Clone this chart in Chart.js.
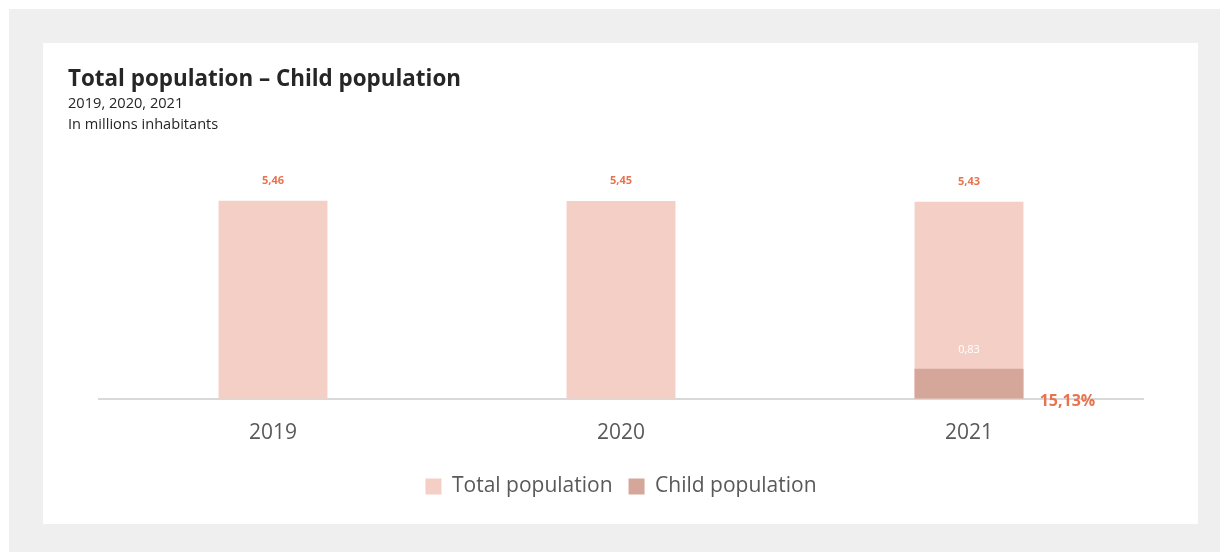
<!DOCTYPE html>
<html>
<head>
<meta charset="utf-8">
<script src="https://cdn.jsdelivr.net/npm/chart.js@4"></script>
<style>
  body { margin: 0; background: #fff; width: 1220px; height: 552px; overflow: hidden; font-family: "Open Sans", sans-serif; }
  .frame { position: absolute; left: 9px; top: 9px; width: 1211px; height: 543px; background: #efefef; }
  .card { position: absolute; left: 43px; top: 43px; width: 1155px; height: 481px; background: #fff; }
  .head { position: absolute; left: 25px; top: 20px; color: #262626; }
  .head h1 { margin: 0; font-size: 22.4px; font-weight: 700; line-height: 29px; }
  .head p { margin: 0; font-size: 14.6px; line-height: 21px; color: #262626; }
  canvas { position: absolute; left: 0; top: 0; }
</style>
</head>
<body>
<div class="frame"></div>
<div class="card">
  <canvas id="chart" width="1155" height="481"></canvas>
  <div class="head">
    <h1>Total population – Child population</h1>
    <p>2019, 2020, 2021</p>
    <p>In millions inhabitants</p>
  </div>
</div>
<script>
const years = ["2019", "2020", "2021"];
const totalPopulation = [5.46, 5.45, 5.43];
const childPopulation = [null, null, 0.83];
const childShare = [null, null, "15,13%"];

const fmt = v => v.toFixed(2).replace(".", ",");

// value labels drawn on top of the bars
const barLabels = {
  id: "barLabels",
  afterDatasetsDraw(chart) {
    const ctx = chart.ctx;
    ctx.save();
    ctx.textAlign = "center";
    ctx.textBaseline = "middle";
    chart.getDatasetMeta(0).data.forEach((bar, i) => {
      ctx.font = "bold 11px 'Open Sans'";
      ctx.fillStyle = "#e8734f";
      ctx.fillText(fmt(totalPopulation[i]), bar.x, bar.y - 20);
    });
    chart.getDatasetMeta(1).data.forEach((bar, i) => {
      if (childPopulation[i] == null) return;
      ctx.font = "11px 'Open Sans'";
      ctx.fillStyle = "#ffffff";
      ctx.fillText(fmt(childPopulation[i]), bar.x, bar.y - 19);
      ctx.font = "bold 16px 'Open Sans'";
      ctx.fillStyle = "#e8734f";
      ctx.fillText(childShare[i], bar.x + bar.width / 2 + 44, bar.base + 3);
    });
    ctx.restore();
  }
};

new Chart(document.getElementById("chart"), {
  type: "bar",
  data: {
    labels: years,
    datasets: [
      { label: "Total population", data: totalPopulation, backgroundColor: "#f4cfc6", order: 2 },
      { label: "Child population", data: childPopulation, backgroundColor: "#d5a69a", order: 1 }
    ]
  },
  options: {
    responsive: false,
    animation: false,
    layout: { padding: { left: 56, right: 55, top: 120, bottom: 17 } },
    datasets: { bar: { categoryPercentage: 1, barPercentage: 0.313 } },
    scales: {
      x: {
        stacked: true,
        grid: { display: false },
        border: { color: "#d9d9d9", width: 2 },
        ticks: { color: "#595959", font: { family: "Open Sans", size: 21 }, padding: 14 }
      },
      y: { display: false, stacked: false, min: 0, max: 6.5 }
    },
    plugins: {
      tooltip: { enabled: false },
      legend: {
        position: "bottom",
        labels: {
          color: "#595959",
          font: { family: "Open Sans", size: 21 },
          boxWidth: 16, boxHeight: 16, padding: 16,
          sort: (a, b) => a.datasetIndex - b.datasetIndex
        }
      }
    }
  },
  plugins: [barLabels]
});
</script>
</body>
</html>
